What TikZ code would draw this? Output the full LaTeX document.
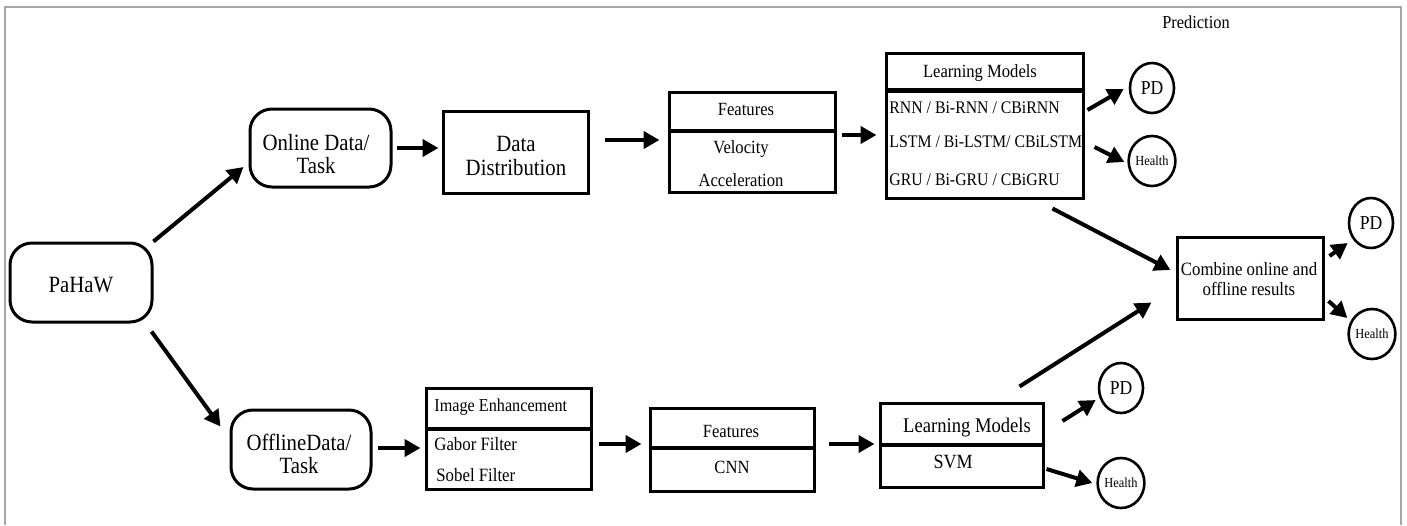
\documentclass[tikz,border=0pt]{standalone}
\usepackage{fontspec}
\setmainfont{Liberation Serif}
\usetikzlibrary{arrows.meta,shapes.geometric,calc}
\newcommand{\vtxt}[1]{\scalebox{1}[1.12]{#1}}
\tikzset{
  box/.style={draw, line width=1.5pt, rectangle, inner sep=0pt},
  rbox/.style={box, rounded corners=11pt},
  circ/.style={draw, line width=1.3pt, ellipse, inner sep=0pt, minimum width=22pt, minimum height=25pt},
  arr/.style={line width=2pt, -{Triangle[length=8pt,width=8.5pt]}},
  div/.style={line width=2pt},
  divthick/.style={line width=2.6pt},
  vst/.style={yscale=1.12, transform shape},
  big/.style={vst, font=\fontsize{10.4}{10.3}\selectfont, align=center, inner sep=0pt},
  mid/.style={vst, font=\fontsize{8.3}{9}\selectfont, align=center, inner sep=0pt},
  midl/.style={vst, font=\fontsize{7.9}{8}\selectfont, inner sep=0pt, anchor=west},
  pdtxt/.style={font=\fontsize{8.8}{9}\selectfont},
  htxt/.style={font=\fontsize{6.2}{7}\selectfont},
  framec/.style={draw=gray!70, line width=1pt}
}
\begin{document}
\begin{tikzpicture}[x=0.5pt,y=-0.5pt]
\useasboundingbox (0,0) rectangle (1407,525);
% frame
\draw[framec] (5,525) -- (5,7) -- (1401,7) -- (1401,525);
\node[vst, font=\fontsize{8.2}{9}\selectfont, inner sep=0pt] (pred) at (1196,22) {Prediction};

% main nodes
\node[rbox, minimum width=71pt, minimum height=39.5pt] (pahaw) at (81,282.5) {};
\node[big] (pahawT) at (81,285) {PaHaW};

\node[rbox, minimum width=70.5pt, minimum height=39pt] (online) at (320.5,148) {};
\node[big] (onlineT) at (316,154) {Online Data/\\Task};

\node[box, minimum width=72.5pt, minimum height=41pt] (dd) at (515.5,152) {};
\node[big] (ddT) at (516,156) {Data\\Distribution};

\node[box, minimum width=83pt, minimum height=50pt] (featT) at (752,142) {};
\draw[div] ([yshift=-20pt]featT.north west) -- ([yshift=-20pt]featT.north east);
\node[mid] (featT1) at (746,110) {Features};
\node[mid] (featT2) at (741,149) {Velocity};
\node[mid] (featT3) at (741,180) {Acceleration};

\node[box, minimum width=98.5pt, minimum height=72.5pt] (lmT) at (984.5,125.5) {};
\draw[divthick] ([yshift=-19.5pt]lmT.north west) -- ([yshift=-19.5pt]lmT.north east);
\node[mid] (lmT0) at (980,73) {Learning Models};
\node[midl] (lmT1) at (889,108) {RNN / Bi-RNN / CBiRNN};
\node[midl] (lmT2) at (889,142) {LSTM / Bi-LSTM/ CBiLSTM};
\node[midl] (lmT3) at (889,180) {GRU / Bi-GRU / CBiGRU};

\node[circ, pdtxt] (pdT) at (1152,88) {\vtxt{PD}};
\node[circ, htxt] (hT) at (1152,161) {\vtxt{Health}};

\node[box, minimum width=73pt, minimum height=41pt] (comb) at (1250,278) {};
\node[mid, font=\fontsize{8.4}{9}\selectfont] (combT) at (1249,279) {Combine online and\\offline results};

\node[circ, pdtxt] (pdR) at (1371,223) {\vtxt{PD}};
\node[circ, htxt] (hR) at (1372,334) {\vtxt{Health}};

\node[rbox, minimum width=70pt, minimum height=39.5pt] (offline) at (301,449.5) {};
\node[big] (offlineT) at (299,454) {OfflineData/\\Task};

\node[box, minimum width=82.5pt, minimum height=50.5pt] (ie) at (508.5,438.5) {};
\draw[div] ([yshift=-21pt]ie.north west) -- ([yshift=-21pt]ie.north east);
\node[midl, font=\fontsize{8.1}{8}\selectfont] (ie0) at (434,407) {Image Enhancement};
\node[midl, font=\fontsize{8.4}{8}\selectfont] (ie1) at (434,444) {Gabor Filter};
\node[midl, font=\fontsize{8.4}{8}\selectfont] (ie2) at (436,475) {Sobel Filter};

\node[box, minimum width=82pt, minimum height=41.5pt] (featB) at (732,449.5) {};
\draw[div] ([yshift=-20.5pt]featB.north west) -- ([yshift=-20.5pt]featB.north east);
\node[mid] (featB1) at (731,431) {Features};
\node[mid] (featB2) at (732,467) {CNN};

\node[box, minimum width=81.5pt, minimum height=42pt] (lmB) at (961.5,445) {};
\draw[div] ([yshift=-21.5pt]lmB.north west) -- ([yshift=-21.5pt]lmB.north east);
\node[mid, font=\fontsize{9.3}{9}\selectfont] (lmB0) at (967,428) {Learning Models};
\node[mid, font=\fontsize{9}{9}\selectfont] (lmB1) at (953,462) {SVM};

\node[circ, pdtxt] (pdB) at (1121,388) {\vtxt{PD}};
\node[circ, htxt] (hB) at (1121,483) {\vtxt{Health}};

% connectors
\draw[arr] (pahaw.north east) -- ($(online.west)+(-5,19)$);
\draw[arr] ($(pahaw.south east)+(-2,8)$) -- ($(offline.north west)+(-9,18)$);
\draw[arr] ($(online.east)+(4,0)$) -- ($(dd.west)+(-3,-4)$);
\draw[arr] ($(dd.east)+(15,-12)$) -- ($(featT.west)+(-8,-2)$);
\draw[arr] ($(featT.east)+(5,-7)$) -- ($(lmT.west)+(-8,9.5)$);
\draw[arr] ($(lmT.east)+(3,-15.5)$) -- ($(pdT.west)+(-5,1)$);
\draw[arr] ($(lmT.east)+(10,21.5)$) -- ($(hT.west)+(-3,1)$);
\draw[arr] ($(lmT.south east)+(-32,9)$) -- ($(comb.west)+(-5,-8)$);
\draw[arr] ($(lmB.north east)+(-25,-15)$) -- ($(comb.south west)+(-24,-18)$);
\draw[arr] ($(lmB.east)+(18,-24)$) -- ($(pdB.west)+(-2,12)$);
\draw[arr] ($(lmB.east)+(2,24)$) -- ($(hB.west)+(-4,0)$);
\draw[arr] ($(comb.east)+(5,-22)$) -- ($(pdR.west)+(0,20)$);
\draw[arr] ($(comb.east)+(4,23)$) -- ($(hR.west)+(0,-16)$);
\draw[arr] ($(offline.east)+(5,-1.5)$) -- ($(ie.west)+(-4,9.5)$);
\draw[arr] ($(ie.east)+(6,5.5)$) -- ($(featB.west)+(-7,-5.5)$);
\draw[arr] ($(featB.east)+(13,-5.5)$) -- ($(lmB.west)+(-4,-1)$);
\end{tikzpicture}
\end{document}
